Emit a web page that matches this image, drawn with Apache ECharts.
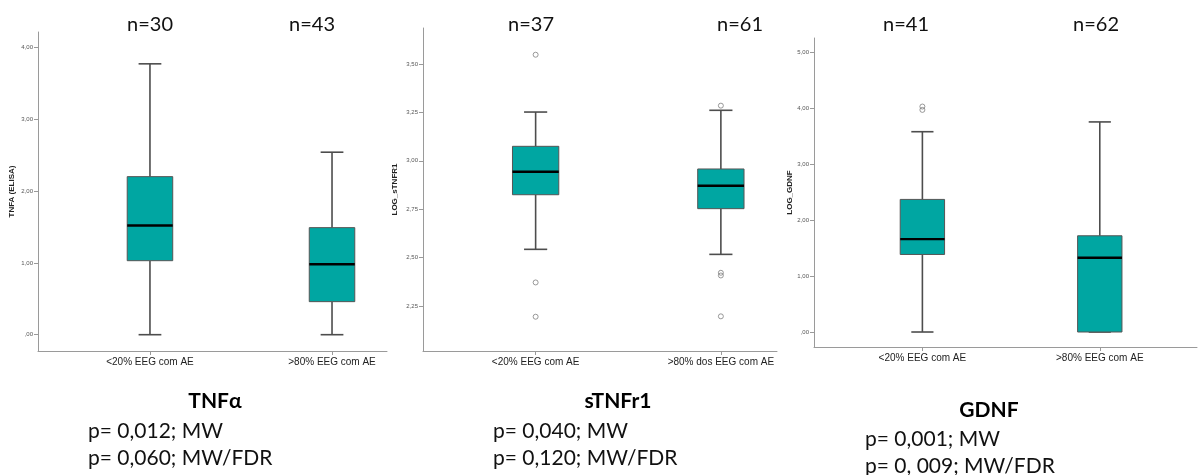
<!DOCTYPE html>
<html>
<head>
<meta charset="utf-8">
<script src="https://cdn.jsdelivr.net/npm/echarts@6/dist/echarts.min.js"></script>
<style>
  html, body { margin: 0; padding: 0; background: #fff; }
  #chart { width: 1198px; height: 475px; }
</style>
</head>
<body>
<div id="chart"></div>
<script>
// Group labels on each x axis
const groupsTNF = ['<20% EEG com AE', '>80% EEG com AE'];
const groupsSTNF = ['<20% EEG com AE', '>80% dos EEG com AE'];
const groupsGDNF = ['<20% EEG com AE', '>80% EEG com AE'];

// Box summaries: [group, lower whisker, Q1, median, Q3, upper whisker]
const boxesTNF = [[0, 0.00, 1.03, 1.52, 2.20, 3.77], [1, 0.00, 0.46, 0.98, 1.49, 2.54]];
const boxesSTNF = [[0, 2.543, 2.825, 2.944, 3.075, 3.252], [1, 2.517, 2.753, 2.871, 2.958, 3.261]];
const boxesGDNF = [[0, 0.00, 1.386, 1.66, 2.37, 3.58], [1, 0.00, 0.00, 1.327, 1.72, 3.755]];

// Outlying observations: [group, value]
const outliersTNF = [];
const outliersSTNF = [[0, 3.548], [0, 2.372], [0, 2.195], [1, 3.285], [1, 2.422], [1, 2.408], [1, 2.197]];
const outliersGDNF = [[0, 4.03], [0, 3.97]];

// Y tick values
const ticksTNF = [0, 1, 2, 3, 4];
const ticksSTNF = [2.25, 2.5, 2.75, 3.0, 3.25, 3.5];
const ticksGDNF = [0, 1, 2, 3, 4, 5];

// Sample sizes per group
const nTNF = ['n=30', 'n=43'];
const nSTNF = ['n=37', 'n=61'];
const nGDNF = ['n=41', 'n=62'];

// Captions under each panel
const titles = ['TNFα', 'sTNFr1', 'GDNF'];
const pLines = [
  ['p= 0,012; MW', 'p= 0,060; MW/FDR'],
  ['p= 0,040; MW', 'p= 0,120; MW/FDR'],
  ['p= 0,001; MW', 'p= 0, 009; MW/FDR']
];

const BOX_COLOR = '#00a6a2';
const AXIS_COLOR = '#9a9a9a';
const BOX_W = 0.25;

function spssNum(v) {
  let s = v.toFixed(2).replace('.', ',');
  if (s.startsWith('0')) s = s.slice(1);
  return s;
}

function renderBox(params, api) {
  const x = api.value(0);
  const lo = api.value(1), q1 = api.value(2), med = api.value(3), q3 = api.value(4), hi = api.value(5);
  const hw = BOX_W / 2, cw = BOX_W / 4;
  const P = (a, b) => api.coord([a, b]);
  const line = (a, b, c, d, style) => {
    const p1 = P(a, b), p2 = P(c, d);
    return { type: 'line', shape: { x1: p1[0], y1: p1[1], x2: p2[0], y2: p2[1] }, style: style };
  };
  const whisk = { stroke: '#4d4d4d', lineWidth: 1.6 };
  const tl = P(x - hw, q3), br = P(x + hw, q1);
  const children = [];
  if (q1 > lo) children.push(line(x, lo, x, q1, whisk));
  children.push(line(x, q3, x, hi, whisk));
  children.push(line(x - cw, lo, x + cw, lo, whisk));
  children.push(line(x - cw, hi, x + cw, hi, whisk));
  children.push({
    type: 'rect',
    shape: { x: tl[0], y: tl[1], width: br[0] - tl[0], height: br[1] - tl[1] },
    style: { fill: BOX_COLOR, stroke: '#555', lineWidth: 1 }
  });
  children.push(line(x - hw, med, x + hw, med, { stroke: '#000', lineWidth: 2.4 }));
  return { type: 'group', children: children };
}

const panels = [
  { groups: groupsTNF, boxes: boxesTNF, outliers: outliersTNF, ticks: ticksTNF, name: 'TNFA (ELISA)',
    grid: { left: 38, top: 32, width: 349, height: 319 }, x: [-0.615, 1.302], y: [-0.227, 4.213], nameGap: 22 },
  { groups: groupsSTNF, boxes: boxesSTNF, outliers: outliersSTNF, ticks: ticksSTNF, name: 'LOG_sTNFR1',
    grid: { left: 423, top: 28, width: 354, height: 323 }, x: [-0.608, 1.303], y: [2.018, 3.686], nameGap: 24 },
  { groups: groupsGDNF, boxes: boxesGDNF, outliers: outliersGDNF, ticks: ticksGDNF, name: 'LOG_GDNF',
    grid: { left: 814, top: 38, width: 383, height: 309 }, x: [-0.611, 1.548], y: [-0.268, 5.255], nameGap: 19 }
];

const grid = [], xAxis = [], yAxis = [], series = [];
panels.forEach((p, i) => {
  grid.push(Object.assign({ containLabel: false }, p.grid));
  xAxis.push({
    type: 'value', gridIndex: i, min: p.x[0], max: p.x[1], position: 'bottom',
    splitLine: { show: false },
    axisLine: { show: true, onZero: false, lineStyle: { color: AXIS_COLOR, width: 1 } },
    axisTick: { show: true, customValues: [0, 1], length: 4, inside: false, lineStyle: { color: AXIS_COLOR } },
    axisLabel: {
      customValues: [0, 1], margin: 6, color: '#222', fontSize: 10,
      fontFamily: 'Liberation Sans, Arial, sans-serif',
      formatter: (v) => p.groups[Math.round(v)]
    }
  });
  yAxis.push({
    type: 'value', gridIndex: i, min: p.y[0], max: p.y[1], position: 'left',
    name: p.name, nameLocation: 'middle', nameGap: p.nameGap,
    nameTextStyle: { fontSize: 8, fontWeight: 'bold', color: '#222', fontFamily: 'Liberation Sans, Arial, sans-serif' },
    splitLine: { show: false },
    axisLine: { show: true, onZero: false, lineStyle: { color: AXIS_COLOR, width: 1 } },
    axisTick: { show: true, customValues: p.ticks, length: 4, lineStyle: { color: AXIS_COLOR } },
    axisLabel: {
      customValues: p.ticks, margin: 5, color: '#555', fontSize: 6,
      fontFamily: 'Liberation Sans, Arial, sans-serif',
      formatter: (v) => spssNum(v)
    }
  });
  series.push({
    type: 'custom', xAxisIndex: i, yAxisIndex: i, clip: false,
    data: p.boxes, renderItem: renderBox, encode: { x: 0, y: [1, 2, 3, 4, 5] }
  });
  series.push({
    type: 'scatter', xAxisIndex: i, yAxisIndex: i,
    data: p.outliers, symbol: 'circle', symbolSize: 5,
    itemStyle: { color: 'rgba(255,255,255,0)', borderColor: '#7f7f7f', borderWidth: 1 }
  });
});

// Sample size labels above each box and captions below each panel
const nLabels = [
  [nTNF[0], 150], [nTNF[1], 312],
  [nSTNF[0], 531], [nSTNF[1], 740],
  [nGDNF[0], 906], [nGDNF[1], 1096]
];
const textFont = 'Lato, "Open Sans", sans-serif';
const graphic = nLabels.map(([t, x]) => ({
  type: 'text', x: x, y: 25,
  style: { text: t, fill: '#111', font: '20px ' + textFont, textAlign: 'center', textVerticalAlign: 'middle' }
}));
const capLayout = [
  { cx: 215, ty: 401, px: 88, py: [431, 458] },
  { cx: 618, ty: 401, px: 493, py: [431, 458] },
  { cx: 989, ty: 410, px: 865, py: [439, 466] }
];
capLayout.forEach((c, i) => {
  graphic.push({
    type: 'text', x: c.cx, y: c.ty,
    style: { text: titles[i], fill: '#000', font: 'bold 21px ' + textFont, textAlign: 'center', textVerticalAlign: 'middle' }
  });
  pLines[i].forEach((t, k) => {
    graphic.push({
      type: 'text', x: c.px, y: c.py[k],
      style: { text: t, fill: '#111', font: '21px ' + textFont, textAlign: 'left', textVerticalAlign: 'middle' }
    });
  });
});

const chart = echarts.init(document.getElementById('chart'), null, { renderer: 'canvas' });
chart.setOption({
  animation: false,
  backgroundColor: '#fff',
  grid: grid, xAxis: xAxis, yAxis: yAxis, series: series, graphic: graphic
});
</script>
</body>
</html>
